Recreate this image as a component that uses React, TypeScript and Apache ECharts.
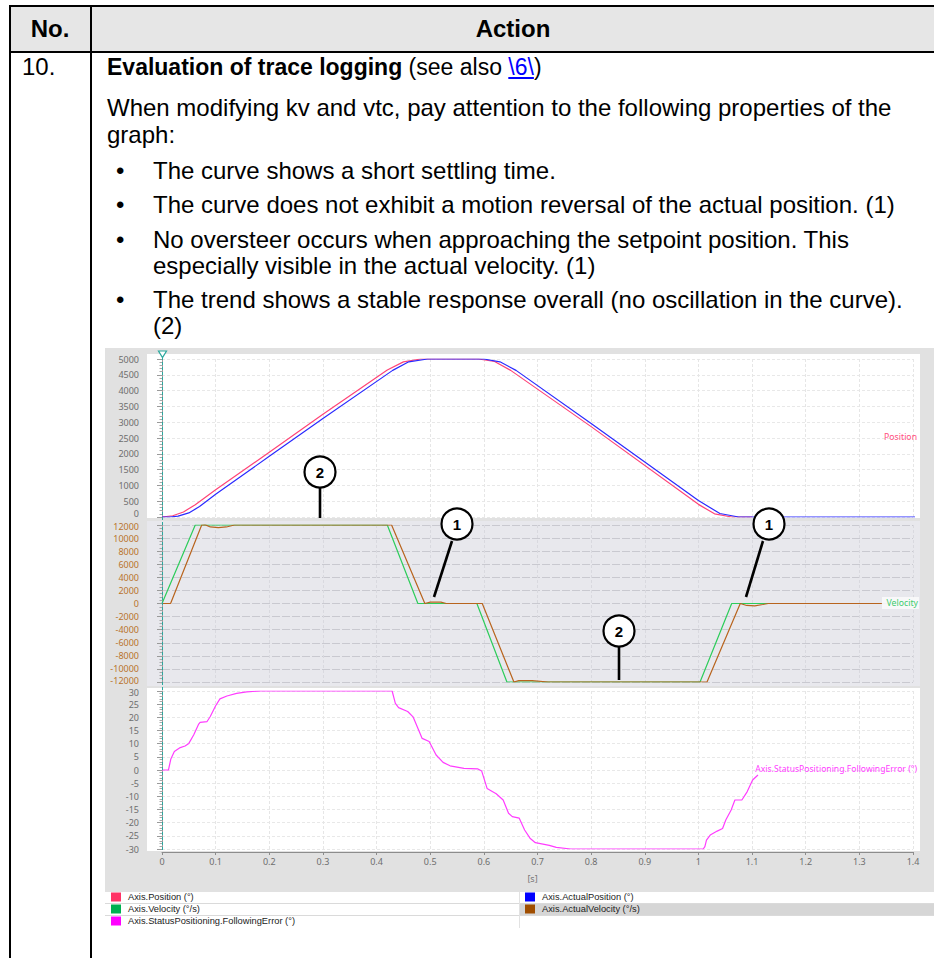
import React, { useEffect, useRef } from "react";
import * as echarts from "echarts";

// ---------- data (t in s, value) ----------
const positionSetpoint: [number, number][] = [
  [0, 0], [0.02, 40], [0.04, 160], [0.062, 390], [0.1, 860], [0.2, 2050], [0.3, 3250],
  [0.42, 4650], [0.45, 4910], [0.482, 5000], [0.59, 5000], [0.62, 4920], [0.65, 4640],
  [0.8, 2860], [1.0, 400], [1.03, 100], [1.062, 0], [1.1, 0],
];
const positionActual: [number, number][] = [
  [0, 0], [0.015, 0], [0.03, 30], [0.05, 130], [0.07, 330], [0.1, 720], [0.2, 1920],
  [0.3, 3120], [0.43, 4640], [0.46, 4910], [0.495, 5000], [0.6, 5000], [0.63, 4910],
  [0.66, 4640], [0.8, 2960], [1.0, 520], [1.04, 110], [1.075, 0], [1.407, 0],
];
const velocitySetpoint: [number, number][] = [
  [0, 0], [0.062, 12000], [0.42, 12000], [0.477, 0], [0.587, 0], [0.643, -12000],
  [1.003, -12000], [1.062, 0], [1.23, 0],
];
const velocityActual: [number, number][] = [
  [0, 0], [0.016, 0], [0.074, 12000], [0.08, 12050], [0.09, 11700], [0.105, 11600],
  [0.12, 11700], [0.135, 12000], [0.428, 12000], [0.49, 0], [0.5, 200], [0.52, 200],
  [0.53, 0], [0.597, 0], [0.656, -12000], [0.665, -11800], [0.69, -11800], [0.72, -12000],
  [1.016, -12000], [1.078, 0], [1.09, -300], [1.105, -350], [1.12, -150], [1.13, 0], [1.342, 0],
];
const followingError: [number, number][] = [
  [0, 0], [0.012, 0], [0.0165, 4.2], [0.023, 7], [0.034, 8.5], [0.043, 9.1], [0.05, 10.1],
  [0.059, 13.3], [0.068, 17.3], [0.071, 18.1], [0.084, 18.4], [0.09, 20.3], [0.1, 24.4],
  [0.108, 27], [0.121, 28.1], [0.139, 29.1], [0.158, 29.7], [0.183, 30], [0.429, 30],
  [0.435, 25.3], [0.441, 23.7], [0.458, 22.2], [0.468, 20.2], [0.485, 12], [0.498, 10.8],
  [0.511, 5.7], [0.524, 2.9], [0.537, 1.6], [0.563, 0.6], [0.589, 0.4], [0.596, -0.4],
  [0.606, -7], [0.623, -9], [0.636, -11.4], [0.646, -16.4], [0.653, -17.7], [0.666, -18.3],
  [0.676, -22.8], [0.686, -25.9], [0.696, -27.6], [0.722, -28.6], [0.735, -29.4],
  [0.762, -30], [1.009, -30], [1.012, -29.1], [1.015, -26.6], [1.022, -24.7], [1.035, -23.2],
  [1.045, -22.2], [1.051, -19], [1.061, -15.2], [1.068, -11.4], [1.081, -11.4],
  [1.091, -8.2], [1.101, -3.8], [1.111, -1.9],
];

const seriesNames = [
  "Axis.Position (°)",
  "Axis.ActualPosition (°)",
  "Axis.Velocity (°/s)",
  "Axis.ActualVelocity (°/s)",
  "Axis.StatusPositioning.FollowingError (°)",
];
const legendColors = ["#ff3366", "#0000ff", "#00b050", "#a04e00", "#ff00ff"];
const lineColors = ["#ff4477", "#2a2aff", "#2ccc5a", "#b8641e", "#ff3cff"];
const panelLabels = ["Position", "Velocity", "Axis.StatusPositioning.FollowingError (°)"];

const xMin = 0, xMax = 1.4, xStep = 0.1;
const posRange = [0, 5000, 500];
const velRange = [-12000, 12000, 2000];
const errRange = [-30, 30, 5];

// ---------- layout ----------
const OX = 105, OY = 348;
const X = (x: number) => x - OX;
const Y = (y: number) => y - OY;
const FONT = '"Noto Sans", "Liberation Sans", Arial, sans-serif';
const LFONT = '"Liberation Sans", Arial, sans-serif';

const callouts = [
  { label: "2", cx: 320, cy: 472, x1: 320, y1: 488, x2: 320, y2: 518 },
  { label: "1", cx: 457, cy: 524, x1: 452, y1: 541, x2: 434, y2: 597 },
  { label: "1", cx: 769, cy: 524, x1: 763, y1: 541, x2: 746, y2: 597 },
  { label: "2", cx: 619, cy: 631, x1: 619, y1: 647, x2: 619, y2: 680 },
];

function Chart() {
  const ref = useRef<HTMLDivElement>(null);
  useEffect(() => {
    if (!ref.current) return;
    const chart = echarts.init(ref.current, undefined, { renderer: "svg" });
    const gridL = X(162), gridW = 751;
    const grids = [
      { left: gridL, width: gridW, top: Y(359), height: 158 },
      { left: gridL, width: gridW, top: Y(525), height: 157 },
      { left: gridL, width: gridW, top: Y(691), height: 158 },
    ];
    const xAxisBase = (i: number) => ({
      gridIndex: i, type: "value", min: xMin, max: xMax, interval: xStep,
      axisLine: { show: i === 2, onZero: false, lineStyle: { color: "#8c8c8c" } },
      axisTick: { show: i === 2, length: 3, lineStyle: { color: "#8c8c8c" } },
      axisLabel: { show: i === 2, fontSize: 9, color: "#6e6e6e", fontFamily: FONT, margin: 5 },
      splitLine: { show: true, lineStyle: { color: i === 1 ? "#d9d9df" : "#e6e6e6", type: [3, 2] } },
      offset: i === 2 ? 3 : 0,
      name: i === 2 ? "[s]" : "",
      nameLocation: "middle", nameGap: 22,
      nameTextStyle: { fontSize: 9, color: "#777", fontFamily: FONT, padding: [0, 10, 0, 0] },
    });
    const yAxisBase = (i: number, r: number[], color: string, minorSplit: number, split: any,
      edge: { hi?: number; lo?: number }) => ({
      gridIndex: i, type: "value", min: r[0], max: r[1], interval: r[2], offset: 16,
      axisLine: { show: true, lineStyle: { color: "#9a9a9a" } },
      axisTick: { show: true, length: 5, lineStyle: { color: "#9a9a9a" } },
      minorTick: { show: true, splitNumber: minorSplit, length: 2.5, lineStyle: { color: "#a8a8a8" } },
      axisLabel: {
        fontSize: 9, color, fontFamily: FONT, margin: 7, lineHeight: 8,
        formatter: (v: number) => {
          if (edge.hi && v === r[1]) return `{hi|${v}}`;
          if (edge.lo && v === r[0]) return `{lo|${v}}`;
          return String(v);
        },
        rich: {
          hi: { fontSize: 9, color, fontFamily: FONT, lineHeight: 8, padding: [edge.hi || 0, 0, 0, 0] },
          lo: { fontSize: 9, color, fontFamily: FONT, lineHeight: 8, padding: [0, 0, edge.lo || 0, 0] },
        },
      },
      splitLine: split,
    });
    const line = (name: string, i: number, data: [number, number][], color: string, z: number) => ({
      name, type: "line", xAxisIndex: i, yAxisIndex: i, data, showSymbol: false, symbol: "none",
      silent: true, z, color, lineStyle: { color, width: 1.2 },
    });
    const legendPos = [
      [X(111), Y(892.5)], [X(525), Y(892.5)], [X(111), Y(904.5)], [X(525), Y(904.5)], [X(111), Y(916.5)],
    ];
    const graphic: any[] = [
      { type: "rect", z: -100, shape: { x: 0, y: 0, width: 829, height: Y(892) }, style: { fill: "#e1e1e1" } },
      { type: "rect", z: -99, shape: { x: X(147), y: Y(354), width: 773, height: 164 }, style: { fill: "#ffffff" } },
      { type: "rect", z: -99, shape: { x: X(147), y: Y(521), width: 773, height: 165 }, style: { fill: "#e8e8ed" } },
      { type: "rect", z: -99, shape: { x: X(147), y: Y(688), width: 773, height: 163 }, style: { fill: "#ffffff" } },
      { type: "rect", z: -99, shape: { x: 0, y: Y(892), width: 829, height: 36 }, style: { fill: "#ffffff" } },
      { type: "rect", z: -98, shape: { x: X(520), y: Y(903.5), width: 414, height: 11.5 }, style: { fill: "#d6d6d6" } },
      { type: "line", z: -97, shape: { x1: 0, y1: Y(903.5), x2: 829, y2: Y(903.5) }, style: { stroke: "#dadada", lineWidth: 1 } },
      { type: "line", z: -97, shape: { x1: 0, y1: Y(915.5), x2: 829, y2: Y(915.5) }, style: { stroke: "#dadada", lineWidth: 1 } },
      { type: "line", z: -97, shape: { x1: X(519.5), y1: Y(892), x2: X(519.5), y2: Y(928) }, style: { stroke: "#e2e2e2", lineWidth: 1 } },
      // cursor
      { type: "line", z: 5, shape: { x1: X(162.5), y1: Y(357), x2: X(162.5), y2: Y(852) }, style: { stroke: "#2aa89e", lineWidth: 1, lineDash: [3, 2] } },
      { type: "polygon", z: 6, shape: { points: [[X(158.5), Y(351)], [X(166.5), Y(351)], [X(162.5), Y(357.5)]] }, style: { fill: "#ffffff", stroke: "#2aa89e", lineWidth: 1.2 } },
      // panel labels
      { type: "text", z: 20, style: { text: panelLabels[0], x: X(917), y: Y(437), fill: "#ff5080", font: `8.7px ${FONT}`, textAlign: "right", textVerticalAlign: "middle", align: "right", verticalAlign: "middle" } },
      { type: "rect", z: 19, shape: { x: X(882), y: Y(597), width: 37, height: 12 }, style: { fill: "rgba(250,250,250,0.85)" } },
      { type: "text", z: 20, style: { text: panelLabels[1], x: X(918), y: Y(603), fill: "#3ccc6c", font: `8.7px ${FONT}`, textAlign: "right", textVerticalAlign: "middle", align: "right", verticalAlign: "middle" } },
      { type: "text", z: 20, style: { text: panelLabels[2], x: X(917), y: Y(769), fill: "#ff40ff", font: `8.6px ${FONT}`, textAlign: "right", textVerticalAlign: "middle", align: "right", verticalAlign: "middle" } },
    ];
    callouts.forEach((c) => {
      graphic.push({ type: "line", z: 30, shape: { x1: X(c.x1), y1: Y(c.y1), x2: X(c.x2), y2: Y(c.y2) }, style: { stroke: "#000", lineWidth: 2.6 } });
      graphic.push({ type: "circle", z: 31, shape: { cx: X(c.cx), cy: Y(c.cy), r: 15.5 }, style: { fill: "#fff", stroke: "#000", lineWidth: 2.2 } });
      graphic.push({ type: "text", z: 32, style: { text: c.label, x: X(c.cx), y: Y(c.cy) + 0.5, fill: "#000", font: `bold 15px ${LFONT}`, textAlign: "center", textVerticalAlign: "middle", align: "center", verticalAlign: "middle" } });
    });

    chart.setOption({
      animation: false,
      grid: grids,
      xAxis: [xAxisBase(0), xAxisBase(1), xAxisBase(2)],
      yAxis: [
        yAxisBase(0, posRange, "#6e6e6e", 5, { show: true, lineStyle: { color: "#e8e8e8", type: [3, 2] } }, { lo: 7 }),
        yAxisBase(1, velRange, "#b9742c", 4, { show: true, lineStyle: { color: "#c9c9d0", width: 1.2, type: [8, 2] } }, { hi: 3, lo: 3 }),
        yAxisBase(2, errRange, "#6e6e6e", 5, { show: true, lineStyle: { color: "#e8e8e8", type: [3, 2] } }, { hi: 3 }),
      ],
      legend: seriesNames.map((n, i) => ({
        data: [{ name: n, itemStyle: { color: legendColors[i] } }],
        left: legendPos[i][0], top: legendPos[i][1], padding: 0, icon: "rect",
        itemWidth: 10, itemHeight: 9, selectedMode: false,
        textStyle: { fontSize: 9.3, color: "#222", fontFamily: LFONT, padding: [0, 0, 0, 2] },
      })),
      series: [
        line(seriesNames[0], 0, positionSetpoint, lineColors[0], 2),
        line(seriesNames[1], 0, positionActual, lineColors[1], 3),
        line(seriesNames[2], 1, velocitySetpoint, lineColors[2], 2),
        line(seriesNames[3], 1, velocityActual, lineColors[3], 3),
        line(seriesNames[4], 2, followingError, lineColors[4], 2),
      ],
      graphic,
    });
    return () => chart.dispose();
  }, []);
  return (
    <div ref={ref} style={{ position: "absolute", left: OX, top: OY, width: 829, height: 582 }} />
  );
}

const FS = 24;
const LH = 26;
const txt = (y: number, fs: number = FS): React.CSSProperties => ({
  position: "absolute", top: y - 13, height: LH, lineHeight: `${LH}px`, fontSize: fs,
  whiteSpace: "nowrap", fontFamily: LFONT, color: "#000",
});

export default function App() {
  const bullets = [
    { y: 171, text: "The curve shows a short settling time.", b: true },
    { y: 205, text: "The curve does not exhibit a motion reversal of the actual position. (1)", b: true },
    { y: 240, text: "No oversteer occurs when approaching the setpoint position. This", b: true },
    { y: 266, text: "especially visible in the actual velocity. (1)", b: false },
    { y: 300, text: "The trend shows a stable response overall (no oscillation in the curve).", b: true },
    { y: 326, text: "(2)", b: false },
  ];
  return (
    <div style={{ position: "absolute", left: 0, top: 0, width: 934, height: 958, background: "#fff", overflow: "hidden" }}>
      {/* header background */}
      <div style={{ position: "absolute", left: 9, top: 5, width: 925, height: 47, background: "#e6e6e6" }} />
      {/* borders */}
      <div style={{ position: "absolute", left: 9, top: 5, width: 925, height: 1.5, background: "#000" }} />
      <div style={{ position: "absolute", left: 8.5, top: 5, width: 2, height: 953, background: "#000" }} />
      <div style={{ position: "absolute", left: 90, top: 5, width: 2, height: 953, background: "#000" }} />
      <div style={{ position: "absolute", left: 9, top: 50.5, width: 925, height: 2.5, background: "#000" }} />
      {/* header text */}
      <div style={{ ...txt(29), left: 10, width: 80, textAlign: "center", fontWeight: "bold" }}>No.</div>
      <div style={{ ...txt(29), left: 92, width: 842, textAlign: "center", fontWeight: "bold" }}>Action</div>
      {/* body */}
      <div style={{ ...txt(67), left: 22 }}>10.</div>
      <div style={{ ...txt(67, 23), left: 107 }}>
        <b>Evaluation of trace logging</b> (see also{" "}
        <span style={{ color: "#0000ff", textDecoration: "underline" }}>\6\</span>)
      </div>
      <div style={{ ...txt(108), left: 107 }}>When modifying kv and vtc, pay attention to the following properties of the</div>
      <div style={{ ...txt(135), left: 107 }}>graph:</div>
      {bullets.map((b, i) => (
        <React.Fragment key={i}>
          {b.b && <div style={{ ...txt(b.y), left: 116 }}>•</div>}
          <div style={{ ...txt(b.y), left: 153 }}>{b.text}</div>
        </React.Fragment>
      ))}
      <Chart />
    </div>
  );
}
